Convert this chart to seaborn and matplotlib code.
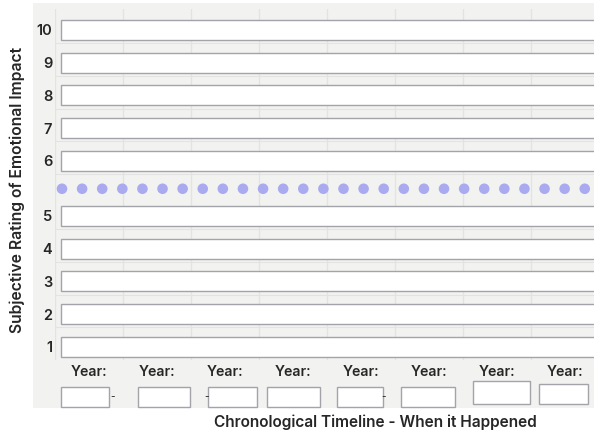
import numpy as np
import pandas as pd
import matplotlib.pyplot as plt
import seaborn as sns
from matplotlib.patches import Rectangle

# Rating scale (rows of the worksheet) and timeline slots
ratings = [1, 2, 3, 4, 5, 6, 7, 8, 9, 10]
year_labels = ["Year:", "Year:", "Year:", "Year:", "Year:", "Year:", "Year:", "Year:"]
n_dots = 27  # dotted divider between "good" (6-10) and "bad" (1-5)

x_title = "Chronological Timeline - When it Happened"
y_title = "Subjective Rating of Emotional Impact"

# Hand-placed year boxes of the worksheet (left, bottom, width, height)
year_boxes = [(0.09, -0.83, 0.71, 0.61), (1.22, -0.83, 0.77, 0.61),
              (2.25, -0.83, 0.72, 0.61), (3.12, -0.83, 0.78, 0.61),
              (4.15, -0.83, 0.68, 0.61), (5.09, -0.83, 0.79, 0.61),
              (6.15, -0.74, 0.84, 0.70), (7.12, -0.74, 0.72, 0.61)]

# Styling
panel_color = "#f2f2f0"
grid_color = "#e3e3e1"
box_edge = "#a3a3aa"
dot_color = "#aaaaf0"
text_color = "#262626"

sns.set_theme(style="white")
plt.rcParams["font.family"] = ["Inter", "DejaVu Sans"]

fig = plt.figure(figsize=(5.97, 4.33), dpi=100)
fig.patch.set_facecolor("white")

# Gray worksheet panel behind everything
panel = Rectangle((33 / 597, 25 / 433), 561 / 597, 405 / 433,
                  transform=fig.transFigure, facecolor=panel_color,
                  edgecolor="none", zorder=-10)
fig.add_artist(panel)

ax = fig.add_axes([55 / 597, 73 / 433, 539 / 597, 351 / 433])
ax.set_facecolor(panel_color)
for s in ax.spines.values():
    s.set_visible(False)

# Row positions: leave a gap above 5 for the divider row
rating_gap = 0.68
y_pos = [r + (rating_gap if r >= 6 else 0) for r in ratings]
divider_y = 5.83

ax.set_xlim(0, 7.93)
ax.set_ylim(0.6, 11.32)

# Vertical grid lines (one per timeline column)
for gx in range(0, 8):
    ax.axvline(gx, color=grid_color, lw=1.0, zorder=1)
# Faint horizontal guides in the gaps
for yp in y_pos[1:]:
    ax.axhline(yp - 0.4, color=grid_color, lw=0.8, zorder=1)

# Empty answer boxes for each rating
ax.barh(y_pos, width=8.0, left=0.09, height=0.61, color="white",
        edgecolor=box_edge, linewidth=1.0, zorder=2)

# Dotted divider
dots = pd.DataFrame({"x": np.linspace(0.103, 7.794, n_dots),
                     "y": [divider_y] * n_dots})
sns.scatterplot(data=dots, x="x", y="y", ax=ax, s=58, color=dot_color,
                edgecolor="none", zorder=3, legend=False)

ax.set_yticks(y_pos)
ax.set_yticklabels([str(r) for r in ratings])
ax.set_xticks([])
ax.tick_params(axis="y", length=0, pad=2, labelsize=10.5, labelcolor=text_color)
for t in ax.get_yticklabels():
    t.set_fontweight("semibold")
ax.set_xlabel("")
ax.set_ylabel("")

# Year slots beneath the timeline
for i, lab in enumerate(year_labels):
    ax.text(i + 0.5, 0.24, lab, ha="center", va="center", fontsize=10.2,
            fontweight="semibold", color=text_color, clip_on=False)
    bx, by, bw, bh = year_boxes[i]
    ax.add_patch(Rectangle((bx, by), bw, bh, facecolor="white",
                           edgecolor=box_edge, lw=1.0, clip_on=False, zorder=2))

# little dashes left over between some of the boxes
for dx in [0.84, 2.23, 4.84]:
    ax.text(dx, -0.52, "-", ha="center", va="center", fontsize=7,
            color=text_color, clip_on=False)

fig.text(375 / 597, 1 - 422 / 433, x_title, ha="center", va="center",
         fontsize=11.1, fontweight="semibold", color=text_color)
fig.text(17 / 597, 1 - 190 / 433, y_title, ha="center", va="center",
         rotation=90, fontsize=11.3, fontweight="semibold", color=text_color)

fig.savefig("out.png", dpi=100)
